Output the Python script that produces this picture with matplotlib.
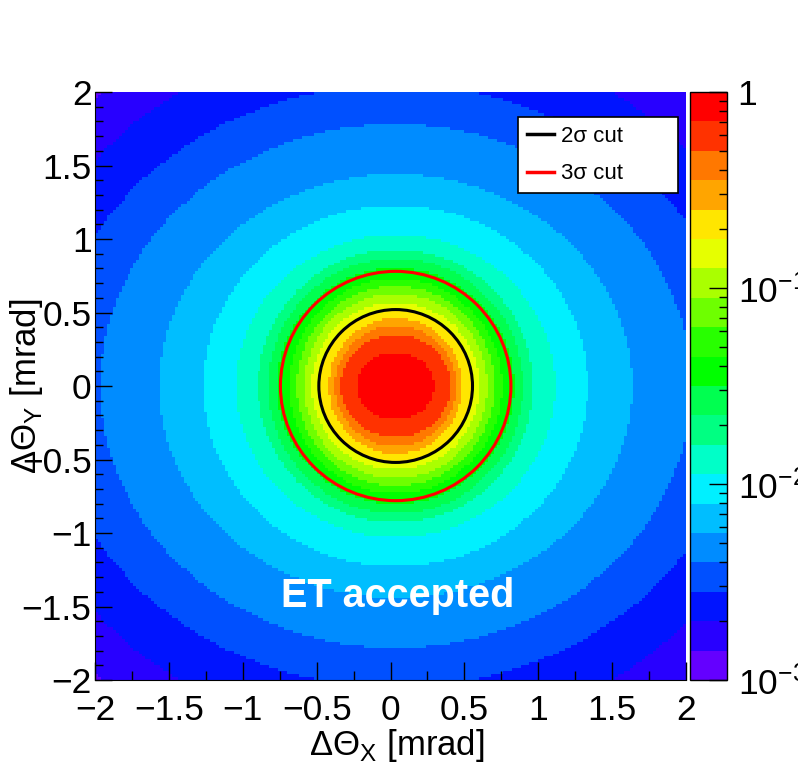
import numpy as np
import matplotlib
matplotlib.use("Agg")
import matplotlib.pyplot as plt
from matplotlib.colors import ListedColormap, LogNorm
from matplotlib.lines import Line2D
from matplotlib.patches import Circle

plt.rcParams["font.family"] = ["Liberation Sans", "DejaVu Sans"]

# histogram binning (mrad)
x_edges = np.linspace(-2, 2, 201)
y_edges = np.linspace(-2, 2, 201)

# centre of the distribution and of the cut circles (mrad)
centre_x = 0.035
centre_y = 0.0
sigma = 0.26

# colour bands of the z axis, lowest to highest (20 contours, 1e-3 .. 1)
band_colors = [
    "#6400ff", "#2800ff", "#0014ff", "#0050ff", "#008cff",
    "#00beff", "#00f0ff", "#00ffc8", "#00ff82", "#00ff50",
    "#00ff00", "#28ff00", "#6eff00", "#aaff00", "#e6ff00",
    "#ffe600", "#ffa500", "#ff7800", "#ff3200", "#ff0000",
]

# outer extent of each band along x and y, from the core outwards (mrad)
band_rx = [0.26, 0.37, 0.41, 0.45, 0.52, 0.57, 0.62, 0.67, 0.72, 0.80,
           0.86, 0.93, 1.08, 1.30, 1.60, 2.00, 2.35, 2.65, 2.95, 9.9]
band_ry = [0.23, 0.35, 0.41, 0.46, 0.52, 0.57, 0.63, 0.68, 0.73, 0.80,
           0.87, 0.93, 1.03, 1.23, 1.44, 1.78, 2.05, 2.40, 2.70, 9.9]

zmin, zmax = 1e-3, 1.0
n_bands = len(band_colors)

# fill bins: each bin takes the level of the innermost band that contains it
xc = 0.5 * (x_edges[:-1] + x_edges[1:])
yc = 0.5 * (y_edges[:-1] + y_edges[1:])
X, Y = np.meshgrid(xc - centre_x, yc - centre_y)
z = np.full(X.shape, np.nan)
for i in range(n_bands - 1, -1, -1):
    inside = (X / band_rx[i]) ** 2 + (Y / band_ry[i]) ** 2 < 1
    k = n_bands - 1 - i
    z[inside] = zmin * (zmax / zmin) ** ((k + 0.5) / n_bands)

fig = plt.figure(figsize=(7.98, 7.74), dpi=100)
ax = fig.add_axes([95 / 798, 1 - 680 / 774, 591 / 798, 588 / 774])
cax = fig.add_axes([690 / 798, 1 - 680 / 774, 36.5 / 798, 588 / 774])

cmap = ListedColormap(band_colors)
norm = LogNorm(vmin=zmin, vmax=zmax)
mesh = ax.pcolormesh(x_edges, y_edges, z, cmap=cmap, norm=norm)

ax.add_patch(Circle((centre_x, centre_y), 2 * sigma, fill=False, color="black", lw=2.2))
ax.add_patch(Circle((centre_x, centre_y), 3 * sigma, fill=False, color="red", lw=2.2))

ticks = [-2, -1.5, -1, -0.5, 0, 0.5, 1, 1.5, 2]
tick_labels = ["\u22122", "\u22121.5", "\u22121", "\u22120.5", "0", "0.5", "1", "1.5", "2"]
ax.set_xlim(-2, 2)
ax.set_ylim(-2, 2)
ax.set_xticks(ticks)
ax.set_xticklabels(tick_labels)
ax.set_yticks(ticks)
ax.set_yticklabels(tick_labels)
ax.set_xticks(np.arange(-2, 2.01, 0.25), minor=True)
ax.set_yticks(np.arange(-2, 2.01, 0.1), minor=True)
ax.tick_params(which="both", direction="in", top=False, right=False, labelsize=25.5)
ax.tick_params(axis="x", which="major", length=13, width=1, pad=10)
ax.tick_params(axis="x", which="minor", length=6.5, width=1)
ax.tick_params(axis="y", which="major", length=12, width=1, pad=2.5)
ax.tick_params(axis="y", which="minor", length=6, width=1)
for s in ["top", "right"]:
    ax.spines[s].set_visible(False)

ax.set_xlabel("\u0394\u0398$_\\mathregular{X}$ [mrad]", fontsize=25)
ax.set_ylabel("\u0394\u0398$_\\mathregular{Y}$ [mrad]", fontsize=25)
ax.xaxis.set_label_coords(0.511, -0.080)
ax.yaxis.set_label_coords(-0.084, 0.5)

ax.text(0.513, 0.124, "ET accepted", transform=ax.transAxes, color="white",
        fontsize=28.5, fontweight="bold", ha="center", va="baseline")

handles = [Line2D([], [], color="black", lw=2.5), Line2D([], [], color="red", lw=2.5)]
leg = ax.legend(handles, ["2\u03c3 cut", "3\u03c3 cut"], loc="upper left",
                bbox_to_anchor=(0.716, 0.957, 0.27, 0.0), mode="expand",
                fontsize=16, frameon=True, fancybox=False, edgecolor="black",
                framealpha=1, borderpad=0.38, labelspacing=0.75,
                handlelength=1.25, handletextpad=0.3, borderaxespad=0)
leg.get_frame().set_linewidth(1.2)

cb = fig.colorbar(mesh, cax=cax)
cb.outline.set_linewidth(1)
cb.set_ticks([1e-3, 1e-2, 1e-1, 1])
cb.set_ticklabels(["$\\mathregular{10^{-3}}$", "$\\mathregular{10^{-2}}$",
                   "$\\mathregular{10^{-1}}$", "1"])
cax.tick_params(which="both", direction="in", labelsize=25.5)
cax.tick_params(which="major", length=13, width=1, pad=8)
cax.tick_params(which="minor", length=6, width=1)

fig.savefig("out.png", dpi=100)
